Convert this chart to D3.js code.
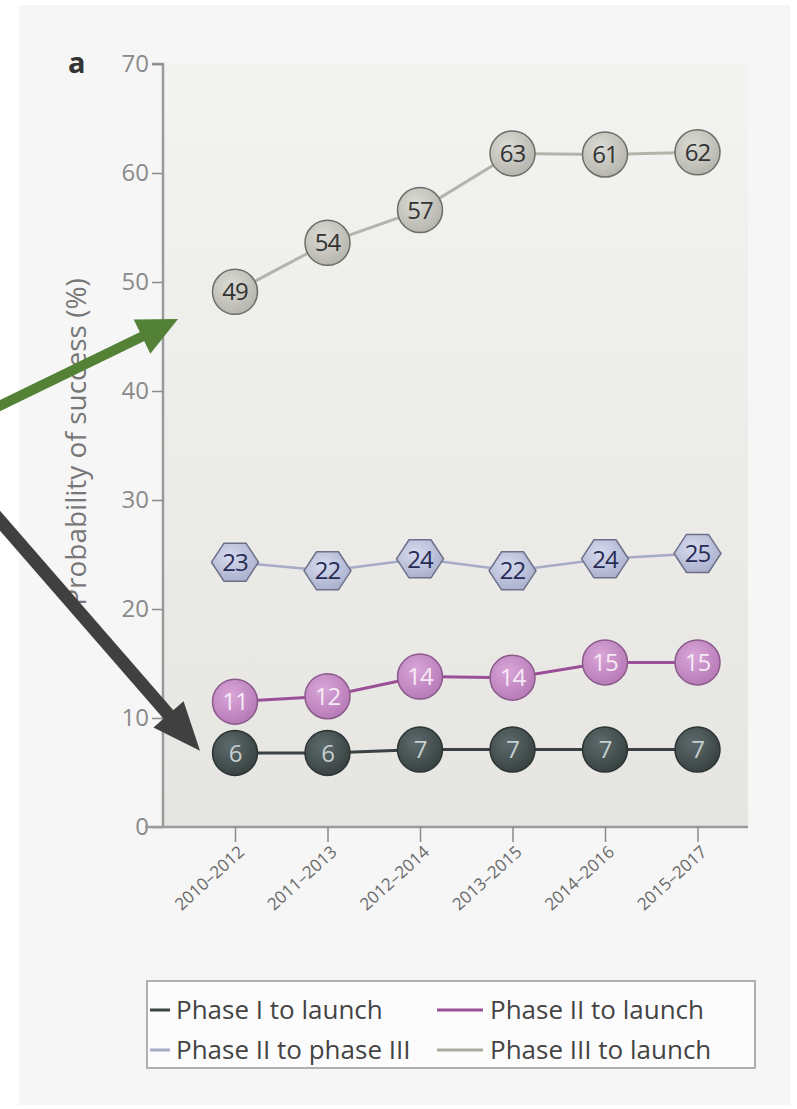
<!DOCTYPE html>
<html><head><meta charset="utf-8">
<script src="https://cdn.jsdelivr.net/npm/d3@7"></script>
<style>
html,body{margin:0;padding:0;background:#ffffff;}
svg{display:block;}
</style></head>
<body>
<svg id="chart" width="797" height="1109"></svg>
<script>
// ---- data ----
const categories = ["2010–2012","2011–2013","2012–2014","2013–2015","2014–2016","2015–2017"];
const yTicks = [0,10,20,30,40,50,60,70];
const phase1Launch = [6.8, 6.8, 7.1, 7.1, 7.1, 7.1];
const phase1Labels = ["6","6","7","7","7","7"];
const phase2Launch = [11.5, 12.0, 13.8, 13.7, 15.1, 15.1];
const phase2Labels = ["11","12","14","14","15","15"];
const phase2to3 = [24.3, 23.5, 24.6, 23.5, 24.6, 25.1];
const phase2to3Labels = ["23","22","24","22","24","25"];
const phase3Launch = [49.1, 53.6, 56.6, 61.8, 61.7, 61.9];
const phase3Labels = ["49","54","57","63","61","62"];
const legendNames = ["Phase I to launch","Phase II to launch","Phase II to phase III","Phase III to launch"];

const FONT = "'Open Sans', 'Noto Sans', sans-serif";
const svg = d3.select("#chart");
const defs = svg.append("defs");

// page panel
svg.append("rect").attr("x",19).attr("y",5).attr("width",771).attr("height",1100).attr("fill","#f6f6f6");

const x0 = 163, x1 = 748, yTop = 64, yBot = 827;
const x = d3.scalePoint().domain(categories).range([235, 697.5]);
const y = d3.scaleLinear().domain([0,70]).range([yBot, yTop]);

// plot background gradient
const bg = defs.append("linearGradient").attr("id","bg").attr("x1",0).attr("y1",0).attr("x2",0).attr("y2",1);
bg.append("stop").attr("offset","0%").attr("stop-color","#f3f3f1");
bg.append("stop").attr("offset","100%").attr("stop-color","#e6e5e1");
svg.append("rect").attr("x",x0).attr("y",yTop).attr("width",x1-x0).attr("height",yBot-yTop).attr("fill","url(#bg)");

// marker gradients
function radial(id, c1, c2){
  const g = defs.append("radialGradient").attr("id",id).attr("cx","40%").attr("cy","35%").attr("r","70%");
  g.append("stop").attr("offset","0%").attr("stop-color",c1);
  g.append("stop").attr("offset","100%").attr("stop-color",c2);
}
radial("gDark","#5d6a6c","#37403f");
radial("gPink","#d9a6d8","#b578b6");
radial("gHex","#d7dbf0","#a9aecb");
radial("gGray","#dcdcd6","#b4b4ac");

// y axis
const yAxis = d3.axisLeft(y).tickValues(yTicks).tickSize(11).tickPadding(3);
const gy = svg.append("g").attr("transform",`translate(${x0},0)`).call(yAxis);
gy.select(".domain").attr("stroke","#9a9a9a").attr("stroke-width",2.5).attr("d",`M-11,${yTop}H0V${yBot}`);
gy.selectAll(".tick line").attr("stroke","#8a8a8a").attr("stroke-width",1.5);
gy.selectAll(".tick text").attr("fill","#8a8a8a").style("font-family",FONT).style("font-size","24px");

// x axis
const xAxis = d3.axisBottom(x).tickSize(15).tickPadding(4);
const gx = svg.append("g").attr("transform",`translate(0,${yBot})`).call(xAxis);
gx.select(".domain").attr("stroke","#9a9a9a").attr("stroke-width",2.5).attr("d",`M${x0-18},0H${x1}`);
gx.selectAll(".tick line").attr("stroke","#8a8a8a").attr("stroke-width",1.5);
gx.selectAll(".tick text").attr("fill","#6a6a6a").style("font-family",FONT).style("font-size","17px")
  .attr("text-anchor","end").attr("y",0).attr("dy","0.35em").attr("transform","translate(6,22) rotate(-42)");

// axis title
svg.append("text").attr("transform",`translate(86,${442}) rotate(-90)`).attr("text-anchor","middle")
  .attr("fill","#777").style("font-family",FONT).style("font-size","28px").text("Probability of success (%)");
svg.append("text").attr("x",68).attr("y",73).attr("fill","#333").style("font-family",FONT)
  .style("font-size","29px").style("font-weight","bold").text("a");

// series
const series = [
  {vals:phase3Launch, labels:phase3Labels, line:"#b4b4ac", lw:3, shape:"circle", fill:"url(#gGray)", stroke:"#6e6e68", text:"#333"},
  {vals:phase2to3, labels:phase2to3Labels, line:"#a7abc6", lw:2.5, shape:"hex", fill:"url(#gHex)", stroke:"#6c7088", text:"#272c55"},
  {vals:phase2Launch, labels:phase2Labels, line:"#9a4f96", lw:3, shape:"circle", fill:"url(#gPink)", stroke:"#8a5a8a", text:"#f6eaf6"},
  {vals:phase1Launch, labels:phase1Labels, line:"#3a4244", lw:3, shape:"circle", fill:"url(#gDark)", stroke:"#2c3434", text:"#c6d0d0"}
];
const line = d3.line().x((d,i)=>x(categories[i])).y(d=>y(d));
series.forEach(s=>{
  svg.append("path").datum(s.vals).attr("d",line).attr("fill","none").attr("stroke",s.line).attr("stroke-width",s.lw);
});
series.forEach(s=>{
  const g = svg.append("g");
  s.vals.forEach((v,i)=>{
    const cx = x(categories[i]), cy = y(v);
    if(s.shape==="circle"){
      g.append("circle").attr("cx",cx).attr("cy",cy).attr("r",22.5).attr("fill",s.fill).attr("stroke",s.stroke).attr("stroke-width",1.5);
    } else {
      const w=23.5, h=19, k=11;
      const pts=[[cx-w,cy],[cx-k,cy-h],[cx+k,cy-h],[cx+w,cy],[cx+k,cy+h],[cx-k,cy+h]];
      g.append("polygon").attr("points",pts.map(p=>p.join(",")).join(" ")).attr("fill",s.fill).attr("stroke",s.stroke).attr("stroke-width",1.5);
    }
    g.append("text").attr("x",cx).attr("y",cy).attr("dy","0.36em").attr("text-anchor","middle")
      .attr("fill",s.text).style("font-family",FONT).style("font-size","24px").style("letter-spacing","-1px").text(s.labels[i]);
  });
});

// legend
svg.append("rect").attr("x",147).attr("y",981).attr("width",608).attr("height",87).attr("fill","#fcfcfc").attr("stroke","#b0b0b0").attr("stroke-width",2);
const legColors = ["#3a4244","#9a4f96","#a7abc6","#a9ab9c"];
legendNames.forEach((n,i)=>{
  const col = i%2, row = Math.floor(i/2);
  const lx = col===0 ? 150 : 437, ly = 1010 + row*40;
  svg.append("line").attr("x1",lx).attr("x2",lx+ (col===0?20:46)).attr("y1",ly).attr("y2",ly).attr("stroke",legColors[i]).attr("stroke-width",3);
  svg.append("text").attr("x",lx+(col===0?26:53)).attr("y",ly).attr("dy","0.35em").attr("fill","#444")
    .style("font-family",FONT).style("font-size","26px").text(n);
});

// annotation arrows
function arrow(xa,ya,xb,yb,color,w,hl,hw){
  const dx=xb-xa, dy=yb-ya, L=Math.hypot(dx,dy), ux=dx/L, uy=dy/L, px=-uy, py=ux;
  const bx=xb-ux*hl, by=yb-uy*hl;
  svg.append("line").attr("x1",xa).attr("y1",ya).attr("x2",bx+ux*2).attr("y2",by+uy*2).attr("stroke",color).attr("stroke-width",w);
  svg.append("polygon").attr("points",[[xb,yb],[bx+px*hw/2,by+py*hw/2],[bx-px*hw/2,by-py*hw/2]].map(p=>p.join(",")).join(" ")).attr("fill",color);
}
arrow(-5, 408, x0+15, y(46.6), "#538135", 10, 40, 38);
arrow(-5, 515, x(categories[0])-35, y(7), "#404040", 13, 48, 40);
</script>
</body></html>
